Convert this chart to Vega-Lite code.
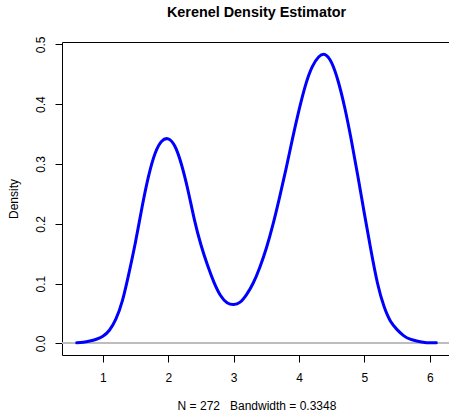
{
  "$schema": "https://vega.github.io/schema/vega-lite/v6.json",
  "autosize": "none",
  "padding": {"left": 62, "top": 42, "right": 0, "bottom": 57},
  "width": 389,
  "height": 313,
  "background": "white",
  "config": {
    "font": "Liberation Sans",
    "view": {"stroke": "#000000", "strokeWidth": 1},
    "axis": {"grid": false, "domain": false, "tickColor": "#000000", "tickSize": 7, "labelColor": "#000000", "labelFontSize": 12, "titleFontSize": 12, "titleFontWeight": "normal", "titleColor": "#000000", "labelFont": "Liberation Sans", "titleFont": "Liberation Sans"}
  },
  "title": {"text": "Kerenel Density Estimator", "fontSize": 14.4, "fontWeight": "bold", "font": "Liberation Sans", "color": "#000000", "anchor": "middle", "frame": "group", "baseline": "bottom", "offset": 21, "dy": 19},
  "data": {"values": [
    {"x": 0.6, "d": 0.001}, {"x": 0.7, "d": 0.002}, {"x": 0.8, "d": 0.004}, {"x": 0.9, "d": 0.007},
    {"x": 1.0, "d": 0.012}, {"x": 1.1, "d": 0.022}, {"x": 1.2, "d": 0.041}, {"x": 1.3, "d": 0.072},
    {"x": 1.4, "d": 0.118}, {"x": 1.5, "d": 0.170}, {"x": 1.6, "d": 0.228}, {"x": 1.7, "d": 0.280},
    {"x": 1.8, "d": 0.318}, {"x": 1.9, "d": 0.338}, {"x": 2.0, "d": 0.342}, {"x": 2.1, "d": 0.330},
    {"x": 2.2, "d": 0.300}, {"x": 2.3, "d": 0.257}, {"x": 2.4, "d": 0.207}, {"x": 2.5, "d": 0.165},
    {"x": 2.6, "d": 0.131}, {"x": 2.7, "d": 0.102}, {"x": 2.8, "d": 0.080}, {"x": 2.9, "d": 0.068},
    {"x": 3.0, "d": 0.065}, {"x": 3.1, "d": 0.069}, {"x": 3.2, "d": 0.082}, {"x": 3.3, "d": 0.101},
    {"x": 3.4, "d": 0.127}, {"x": 3.5, "d": 0.159}, {"x": 3.6, "d": 0.198}, {"x": 3.7, "d": 0.243},
    {"x": 3.8, "d": 0.291}, {"x": 3.9, "d": 0.342}, {"x": 4.0, "d": 0.390}, {"x": 4.1, "d": 0.432},
    {"x": 4.2, "d": 0.462}, {"x": 4.3, "d": 0.479}, {"x": 4.4, "d": 0.483}, {"x": 4.5, "d": 0.469},
    {"x": 4.6, "d": 0.438}, {"x": 4.7, "d": 0.394}, {"x": 4.8, "d": 0.340}, {"x": 4.9, "d": 0.280},
    {"x": 5.0, "d": 0.217}, {"x": 5.1, "d": 0.156}, {"x": 5.2, "d": 0.101}, {"x": 5.3, "d": 0.062},
    {"x": 5.4, "d": 0.037}, {"x": 5.5, "d": 0.023}, {"x": 5.6, "d": 0.013}, {"x": 5.7, "d": 0.007},
    {"x": 5.8, "d": 0.004}, {"x": 5.9, "d": 0.002}, {"x": 6.0, "d": 0.001}, {"x": 6.1, "d": 0.001}
  ]},
  "layer": [
    {
      "mark": {"type": "rule", "color": "#BEBEBE", "strokeWidth": 1},
      "encoding": {"y": {"datum": 0}}
    },
    {
      "mark": {"type": "line", "color": "#0000FF", "strokeWidth": 3, "interpolate": "natural", "strokeCap": "round", "strokeJoin": "round"},
      "encoding": {
        "x": {"field": "x", "type": "quantitative",
          "scale": {"domain": [0.375, 6.325], "nice": false, "zero": false},
          "axis": {"values": [1, 2, 3, 4, 5, 6], "title": "N = 272\u00a0\u00a0\u00a0Bandwidth = 0.3348", "labelPadding": 10, "titleY": 54, "titleBaseline": "alphabetic"}},
        "y": {"field": "d", "type": "quantitative",
          "scale": {"domain": [-0.0194, 0.504], "nice": false, "zero": false},
          "axis": {"values": [0, 0.1, 0.2, 0.3, 0.4, 0.5], "format": ".1f", "title": "Density", "labelAngle": -90, "labelAlign": "center", "labelBaseline": "alphabetic", "labelPadding": 11, "titleX": -45, "titleY": 156.5, "titleBaseline": "alphabetic", "titleAngle": -90}}
      }
    }
  ]
}
